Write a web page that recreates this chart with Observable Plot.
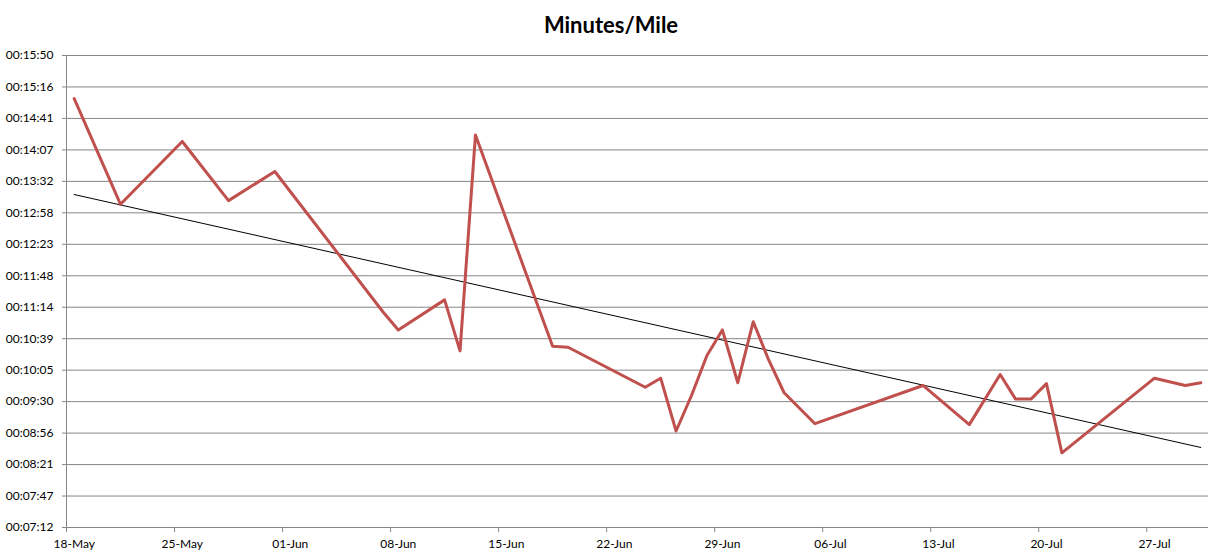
<!DOCTYPE html>
<html><head><meta charset="utf-8">
<script src="https://cdn.jsdelivr.net/npm/d3@7"></script>
<script src="https://cdn.jsdelivr.net/npm/@observablehq/plot@0.6"></script>
<style>
body{margin:0;background:#fff;}
#title{height:40px;box-sizing:border-box;padding-top:14px;text-align:center;font-weight:bold;font-size:22px;font-family:Lato,"Liberation Sans",sans-serif;line-height:22px;color:#000;}
</style></head><body>
<div id="title">Minutes/Mile</div>
<div id="chart"></div>
<script>
// run dates (category = day of run)
const dates = ["2013-05-18","2013-05-21","2013-05-25","2013-05-28","2013-05-31","2013-06-07","2013-06-08","2013-06-11","2013-06-12","2013-06-13","2013-06-18","2013-06-19","2013-06-24","2013-06-25","2013-06-26","2013-06-27","2013-06-28","2013-06-29","2013-06-30","2013-07-01","2013-07-02","2013-07-03","2013-07-05","2013-07-12","2013-07-15","2013-07-17","2013-07-18","2013-07-19","2013-07-20","2013-07-21","2013-07-27","2013-07-29","2013-07-30"];
// pace in seconds per mile
const paceSeconds = [903,787,856,791,823,669,649,682,626,863,631,630,586,596,538,577,621,649,591,658,616,580,546,588,545,600,573,573,590,514,596,588,591];
// linear trendline (Excel), values at first and last run, seconds per mile
const trendDates = ["2013-05-18","2013-07-30"];
const trendSeconds = [797.7, 519.9];
const xTickDates = ["2013-05-18","2013-05-25","2013-06-01","2013-06-08","2013-06-15","2013-06-22","2013-06-29","2013-07-06","2013-07-13","2013-07-20","2013-07-27"];
const xDomain = ["2013-05-18","2013-07-31"];
// y ticks in seconds (Excel time axis: 0.005 d to 0.011 d, step 0.0004 d)
const yTicks = [432,466.56,501.12,535.68,570.24,604.8,639.36,673.92,708.48,743.04,777.6,812.16,846.72,881.28,915.84,950.4];

const day = 864e5;
const parse = s => new Date(s + "T00:00:00Z");
const mid = s => new Date(parse(s).getTime() + day / 2);
const data = dates.map((d, i) => ({date: mid(d), pace: paceSeconds[i]}));
const trend = trendDates.map((d, i) => ({date: mid(d), pace: trendSeconds[i]}));
const fmt = s => { const t = Math.round(s); const m = Math.floor(t / 60), ss = t % 60; return "00:" + String(m).padStart(2, "0") + ":" + String(ss).padStart(2, "0"); };
const fmtDate = d3.utcFormat("%d-%b");

const chart = Plot.plot({
  width: 1222, height: 519,
  marginLeft: 66, marginRight: 14, marginTop: 15, marginBottom: 32,
  style: {fontFamily: "Lato, 'Liberation Sans', sans-serif", fontSize: "12px", color: "#000", background: "#fff"},
  x: {type: "utc", domain: xDomain.map(parse)},
  y: {domain: [yTicks[0], yTicks[yTicks.length - 1]]},
  marks: [
    Plot.gridY(yTicks, {stroke: "#868686", strokeOpacity: 1, strokeWidth: 1}),
    Plot.ruleX([parse(xDomain[0])], {stroke: "#868686"}),
    Plot.axisY({ticks: yTicks, tickFormat: fmt, tickSize: 4, tickPadding: 9, stroke: "#868686", fill: "#000", label: null}),
    Plot.axisX({ticks: xTickDates.map(parse), tickSize: 5, tickFormat: () => "", stroke: "#868686", label: null}),
    Plot.axisX({ticks: xTickDates.map(mid), tickSize: 0, tickPadding: 12, tickFormat: fmtDate, fill: "#000", label: null}),
    Plot.line(trend, {x: "date", y: "pace", stroke: "#000", strokeWidth: 1}),
    Plot.line(data, {x: "date", y: "pace", stroke: "#C0504D", strokeWidth: 3})
  ]
});
document.getElementById("chart").appendChild(chart);
</script>
</body></html>
